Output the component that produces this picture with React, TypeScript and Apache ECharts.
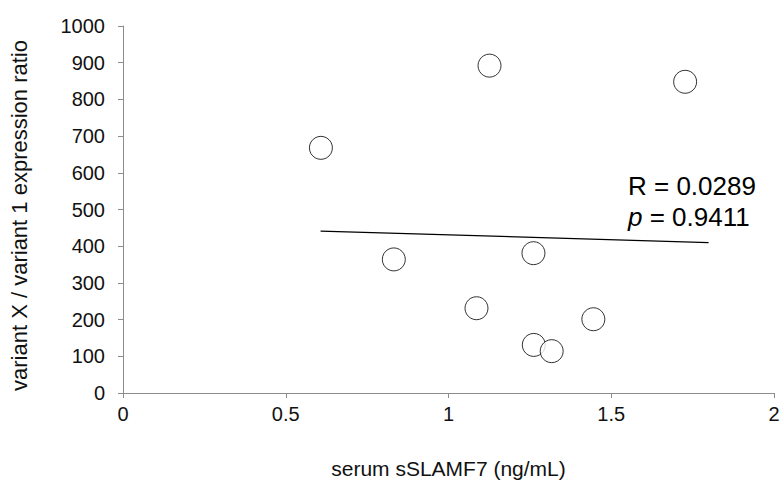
import React, { useEffect, useRef } from "react";
import * as echarts from "echarts";

const xValues = [0.608, 0.832, 1.086, 1.126, 1.261, 1.262, 1.317, 1.445, 1.727];
const yValues = [668, 364, 231, 892, 381, 131, 114, 201, 848];
const trendX = [0.607, 1.799];
const trendY = [441, 410];
const xTicks = [0, 0.5, 1, 1.5, 2];
const yTicks = [0, 100, 200, 300, 400, 500, 600, 700, 800, 900, 1000];
const rText = "R = 0.0289";
const pText = "= 0.9411";

export default function App() {
  const ref = useRef<HTMLDivElement>(null);
  useEffect(() => {
    const chart = echarts.init(ref.current!, null, { renderer: "svg" });
    const font = "'Liberation Sans', Arial, Helvetica, sans-serif";
    chart.setOption({
      animation: false,
      backgroundColor: "#ffffff",
      textStyle: { fontFamily: font },
      grid: {
        left: 123,
        right: 7,
        top: 26,
        bottom: 90,
        containLabel: false,
        outerBoundsMode: "none",
      },
      xAxis: {
        type: "value",
        min: xTicks[0],
        max: xTicks[xTicks.length - 1],
        interval: 0.5,
        name: "serum sSLAMF7 (ng/mL)",
        nameLocation: "middle",
        nameGap: 65,
        nameTextStyle: { fontSize: 21, color: "#111", fontFamily: font },
        axisLine: { lineStyle: { color: "#8c8c8c", width: 1 } },
        axisTick: { show: true, length: 5, lineStyle: { color: "#8c8c8c" } },
        axisLabel: {
          fontSize: 20,
          color: "#111",
          margin: 11,
          fontFamily: font,
          formatter: (v: number) => String(v),
        },
        splitLine: { show: false },
      },
      yAxis: {
        type: "value",
        min: yTicks[0],
        max: yTicks[yTicks.length - 1],
        interval: 100,
        name: "variant X / variant 1 expression ratio",
        nameLocation: "middle",
        nameRotate: 90,
        nameGap: 93,
        nameTextStyle: {
          fontSize: 22,
          color: "#111",
          fontFamily: font,
          padding: [0, 12, 0, 0],
        },
        axisLine: { show: true, lineStyle: { color: "#8c8c8c", width: 1 } },
        axisTick: { show: true, length: 5, lineStyle: { color: "#8c8c8c" } },
        axisLabel: {
          fontSize: 20,
          color: "#111",
          margin: 18,
          fontFamily: font,
          formatter: (v: number) => String(v),
        },
        splitLine: { show: false },
      },
      series: [
        {
          type: "line",
          data: trendX.map((x, i) => [x, trendY[i]]),
          showSymbol: false,
          symbol: "none",
          lineStyle: { color: "#000", width: 1.2 },
          z: 1,
        },
        {
          type: "scatter",
          data: xValues.map((x, i) => [x, yValues[i]]),
          symbol: "circle",
          symbolSize: 23,
          itemStyle: { color: "#ffffff", borderColor: "#000", borderWidth: 1 },
          z: 2,
        },
      ],
      graphic: [
        {
          type: "text",
          left: 628,
          top: 173,
          style: { text: rText, fontSize: 26, fill: "#000", fontFamily: font },
        },
        {
          type: "text",
          left: 628,
          top: 204,
          style: {
            text: "{i|p} " + pText,
            fontSize: 26,
            fill: "#000",
            fontFamily: font,
            rich: { i: { fontStyle: "italic", fontSize: 26, fontFamily: font } },
          },
        },
      ],
    });
    return () => chart.dispose();
  }, []);
  return (
    <div
      ref={ref}
      style={{ position: "fixed", left: 0, top: 0, width: 781, height: 483 }}
    />
  );
}
